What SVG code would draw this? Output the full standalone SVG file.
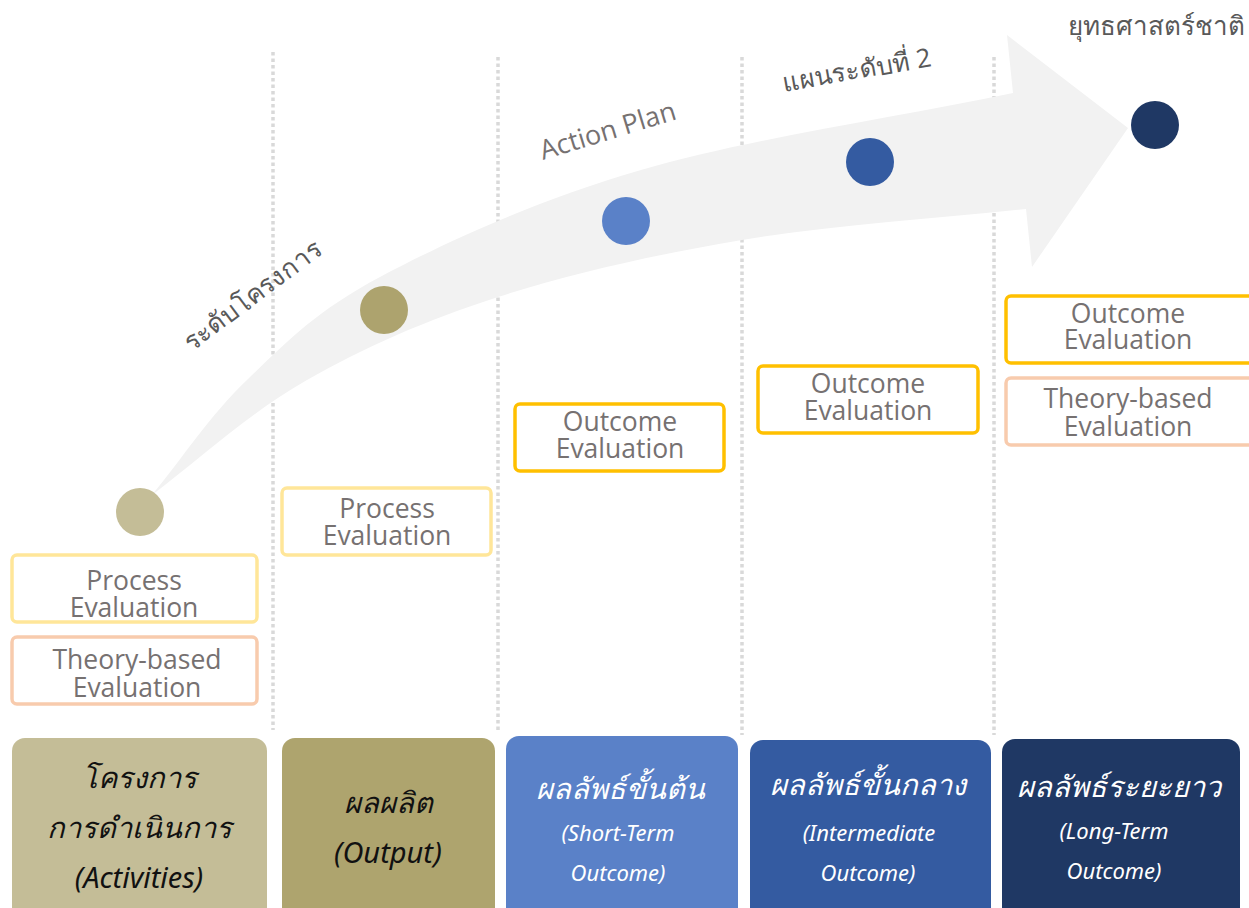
<svg xmlns="http://www.w3.org/2000/svg" width="1249" height="908" viewBox="0 0 1249 908">
<style>
.dot{stroke:#d9d9d9;stroke-width:3.5;stroke-dasharray:3.5 3;fill:none}
.ev{fill:#fff;stroke-width:3.5}
.py{stroke:#ffe699}
.gd{stroke:#ffc000}
.pc{stroke:#f8cbad}
.et{font-family:"Open Sans","Liberation Sans",sans-serif;font-size:26.5px;fill:#767171;text-anchor:middle}
.lb{font-family:"Open Sans","Noto Sans","DejaVu Sans",sans-serif;fill:#595959}
.bt{font-family:"Noto Sans","DejaVu Sans",sans-serif;font-style:italic;text-anchor:middle}
.th{font-size:29px}
.en{font-size:22px}
.dk{fill:#111}
.wh{fill:#fff}
</style>
<rect width="1249" height="908" fill="#fff"/>
<g id="dividers">
<line class="dot" x1="273" y1="52" x2="273" y2="730"/>
<line class="dot" x1="498" y1="57" x2="498" y2="732"/>
<line class="dot" x1="742" y1="57" x2="742" y2="735"/>
<line class="dot" x1="994" y1="57" x2="994" y2="735"/>
</g>
<g id="labels">
<text class="lb" font-size="26" transform="translate(192,352) rotate(-37)">ระดับโครงการ</text>
<text class="lb" font-size="27" style="fill:#767171" transform="translate(543,160) rotate(-17)">Action Plan</text>
<text class="lb" font-size="26" transform="translate(784,92) rotate(-10)">แผนระดับที่ 2</text>
<text class="lb" font-size="26" x="1068" y="35">ยุทธศาสตร์ชาติ</text>
</g>
<g id="connectors">
<path id="big-arrow" fill="#f2f2f2" d="M152,495 C183.7,456.7 209,416.3 247,380 C285,343.7 314.3,312 380,277 C445.7,242 535.5,200.7 641,170 C746.5,139.3 889,118.7 1013,93 L1007,35 L1128,128 L1032,267 L1026,209 C931.3,219.3 830,225.3 742,240 C654,254.7 570.5,273.7 498,297 C425.5,320.3 364.5,347.3 307,380 C249.5,412.7 204.3,455.3 152,495 Z"/>
</g>
<g id="milestones">
<circle id="m1" cx="140" cy="512" r="24" fill="#c4bd97"/>
<circle id="m2" cx="384" cy="310" r="24" fill="#ada36e"/>
<circle id="m3" cx="626" cy="221" r="24" fill="#5a81c8"/>
<circle id="m4" cx="870" cy="162" r="24" fill="#345ba1"/>
<circle id="m5" cx="1155" cy="125" r="24" fill="#1f3864"/>
</g>
<g id="eval-process-1"><rect class="ev py" x="12" y="555" width="245" height="67" rx="5"/><text class="et" x="134" y="590">Process</text><text class="et" x="134" y="617">Evaluation</text></g>
<g id="eval-theory-1"><rect class="ev pc" x="12" y="637" width="245" height="67" rx="5"/><text class="et" x="137" y="669">Theory-based</text><text class="et" x="137" y="697">Evaluation</text></g>
<g id="eval-process-2"><rect class="ev py" x="282" y="488" width="209" height="67" rx="5"/><text class="et" x="387" y="518">Process</text><text class="et" x="387" y="545">Evaluation</text></g>
<g id="eval-outcome-3"><rect class="ev gd" x="515" y="404" width="209" height="67" rx="5"/><text class="et" x="620" y="431">Outcome</text><text class="et" x="620" y="458">Evaluation</text></g>
<g id="eval-outcome-4"><rect class="ev gd" x="758" y="366" width="220" height="67" rx="5"/><text class="et" x="868" y="393">Outcome</text><text class="et" x="868" y="420">Evaluation</text></g>
<g id="eval-outcome-5"><rect class="ev gd" x="1006" y="296" width="250" height="67" rx="5"/><text class="et" x="1128" y="323">Outcome</text><text class="et" x="1128" y="349">Evaluation</text></g>
<g id="eval-theory-5"><rect class="ev pc" x="1006" y="378" width="250" height="67" rx="5"/><text class="et" x="1128" y="408">Theory-based</text><text class="et" x="1128" y="436">Evaluation</text></g>
<g id="stage-activities"><rect x="12" y="738" width="255" height="185" rx="13" fill="#c4bd97"/>
<text class="bt th dk" x="139" y="788">โครงการ</text><text class="bt th dk" x="139" y="838">การดำเนินการ</text><text class="bt th dk" x="139" y="888">(Activities)</text></g>
<g id="stage-output"><rect x="282" y="738" width="213" height="185" rx="13" fill="#aea46e"/>
<text class="bt th dk" x="388" y="813">ผลผลิต</text><text class="bt th dk" x="388" y="863">(Output)</text></g>
<g id="stage-short"><rect x="506" y="736" width="232" height="187" rx="13" fill="#5a81c8"/>
<text class="bt th wh" x="620" y="799">ผลลัพธ์ขั้นต้น</text><text class="bt en wh" x="618" y="841">(Short-Term</text><text class="bt en wh" x="618" y="881">Outcome)</text></g>
<g id="stage-intermediate"><rect x="750" y="740" width="241" height="183" rx="13" fill="#345ba1"/>
<text class="bt th wh" x="868" y="795">ผลลัพธ์ขั้นกลาง</text><text class="bt en wh" x="869" y="841">(Intermediate</text><text class="bt en wh" x="868" y="881">Outcome)</text></g>
<g id="stage-long"><rect x="1002" y="739" width="238" height="184" rx="13" fill="#1f3864"/>
<text class="bt th wh" x="1119" y="797">ผลลัพธ์ระยะยาว</text><text class="bt en wh" x="1114" y="839">(Long-Term</text><text class="bt en wh" x="1114" y="879">Outcome)</text></g>
</svg>
